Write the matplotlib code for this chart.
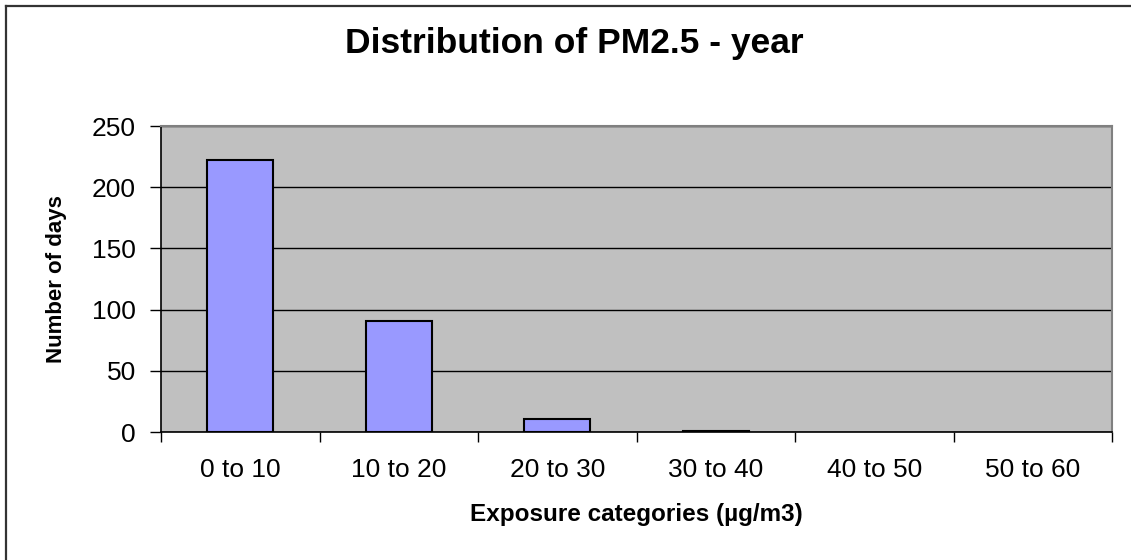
import numpy as np
import matplotlib.pyplot as plt
from matplotlib.lines import Line2D

plt.rcParams['font.family'] = ['Liberation Sans', 'DejaVu Sans']

categories = ["0 to 10", "10 to 20", "20 to 30", "30 to 40", "40 to 50", "50 to 60"]
days = [222, 91, 11, 1, 0, 0]

fig = plt.figure(figsize=(11.31, 5.6), dpi=100)
ax = fig.add_axes([161/1131, 1-432/560, (1112-161)/1131, (432-126)/560])

x = np.arange(len(categories))
# zero-height bars get no outline, like the original
edge_w = [1.5 if d > 0 else 0 for d in days]
ax.bar(x, days, width=0.415, color="#9999FF", edgecolor="black", linewidth=edge_w, zorder=3)

ax.set_facecolor("#C0C0C0")
ax.set_xlim(-0.5, len(categories) - 0.5)
ax.set_ylim(0, 250)
ax.set_yticks(range(0, 251, 50))
ax.yaxis.grid(True, color="black", linewidth=1)
ax.set_axisbelow(True)

ax.set_xticks(x)
ax.set_xticklabels(categories, fontsize=19)
ax.set_xticks(np.arange(-0.5, len(categories), 1), minor=True)
ax.tick_params(axis="x", which="major", length=0, pad=19)
ax.tick_params(axis="x", which="minor", length=7, width=1)
ax.tick_params(axis="y", length=8, width=1, labelsize=19, pad=10)

for s in ["top", "right"]:
    ax.spines[s].set_color("#808080")
    ax.spines[s].set_linewidth(1.5)
ax.spines["left"].set_linewidth(1.2)
ax.spines["bottom"].set_linewidth(1.2)

ax.set_xlabel("Exposure categories (µg/m3)", fontsize=17.5, fontweight="bold", labelpad=15)
ax.set_ylabel("Number of days", fontsize=16, fontweight="bold", labelpad=18)
fig.suptitle("Distribution of PM2.5 - year", fontsize=25.5, fontweight="bold", x=574/1131, y=0.952)

# outer frame: only top and left edges are visible in the original crop
fig.add_artist(Line2D([6/1131, 1], [1-6/560, 1-6/560], transform=fig.transFigure, color="#333333", linewidth=1.6))
fig.add_artist(Line2D([6/1131, 6/1131], [0, 1-6/560], transform=fig.transFigure, color="#333333", linewidth=1.6))

fig.savefig("out.png", dpi=100)
